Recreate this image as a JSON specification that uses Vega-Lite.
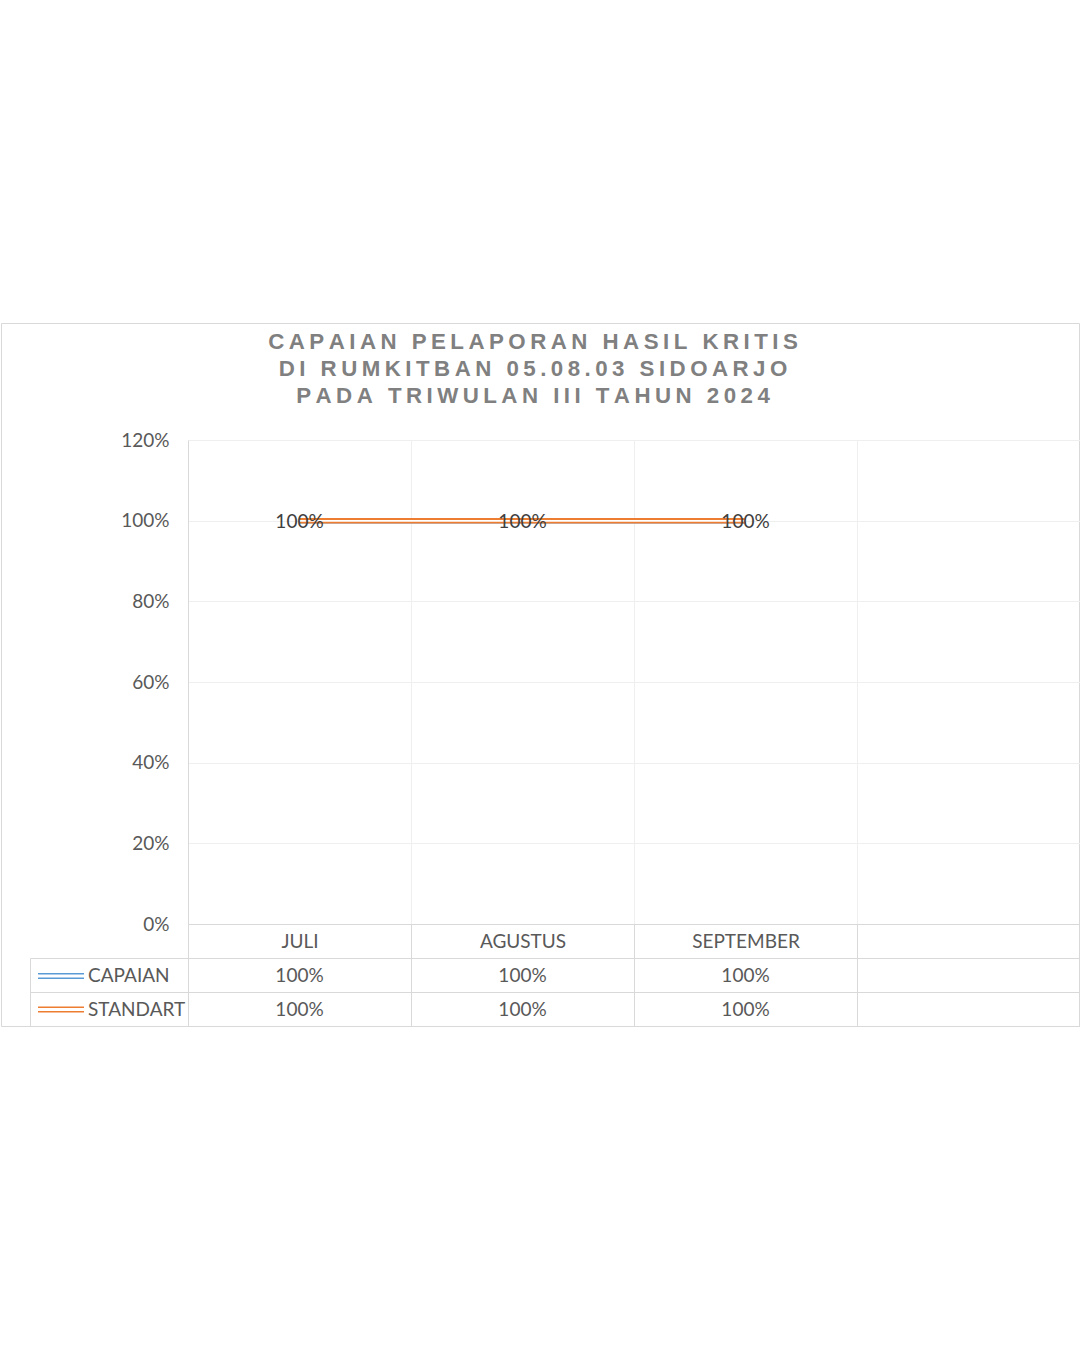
{
  "$schema": "https://vega.github.io/schema/vega-lite/v6.json",
  "width": 1078,
  "height": 703,
  "autosize": "none",
  "padding": {"left": 1, "top": 323, "right": 1, "bottom": 4},
  "background": "white",
  "config": {"view": {"stroke": "#d9d9d9", "strokeWidth": 1}, "font": "Lato"},
  "title": {
    "text": [
      "C\u2009A\u2009P\u2009A\u2009I\u2009A\u2009N\u2009 \u2009P\u2009E\u2009L\u2009A\u2009P\u2009O\u2009R\u2009A\u2009N\u2009 \u2009H\u2009A\u2009S\u2009I\u2009L\u2009 \u2009K\u2009R\u2009I\u2009T\u2009I\u2009S",
      "D\u2009I\u2009 \u2009R\u2009U\u2009M\u2009K\u2009I\u2009T\u2009B\u2009A\u2009N\u2009 \u20090\u20095\u2009.\u20090\u20098\u2009.\u20090\u20093\u2009 \u2009S\u2009I\u2009D\u2009O\u2009A\u2009R\u2009J\u2009O",
      "P\u2009A\u2009D\u2009A\u2009 \u2009T\u2009R\u2009I\u2009W\u2009U\u2009L\u2009A\u2009N\u2009 \u2009I\u2009I\u2009I\u2009 \u2009T\u2009A\u2009H\u2009U\u2009N\u2009 \u20092\u20090\u20092\u20094"
    ],
    "anchor": "middle",
    "frame": "group",
    "orient": "top",
    "offset": -84.6,
    "baseline": "top",
    "lineHeight": 27,
    "font": "Liberation Sans",
    "fontWeight": "bold",
    "fontSize": 22.3,
    "color": "#808080",
    "dx": -7
  },
  "data": {
    "values": [
      {"month": "JULI", "series": "CAPAIAN", "value": 1},
      {"month": "AGUSTUS", "series": "CAPAIAN", "value": 1},
      {"month": "SEPTEMBER", "series": "CAPAIAN", "value": 1},
      {"month": "JULI", "series": "STANDART", "value": 1},
      {"month": "AGUSTUS", "series": "STANDART", "value": 1},
      {"month": "SEPTEMBER", "series": "STANDART", "value": 1}
    ]
  },
  "encoding": {
    "x": {
      "field": "month",
      "type": "nominal",
      "sort": null,
      "scale": {"type": "band", "domain": ["JULI", "AGUSTUS", "SEPTEMBER", " "], "range": [187, 1079], "paddingInner": 0, "paddingOuter": 0},
      "axis": {
        "orient": "top",
        "offset": -601,
        "title": null,
        "tickBand": "extent",
        "ticks": true,
        "tickSize": -102,
        "tickColor": "#d9d9d9",
        "domain": true,
        "domainColor": "#d9d9d9",
        "grid": true,
        "gridColor": "#efefef",
        "labelFont": "Lato",
        "labelFontSize": 19,
        "labelColor": "#595959",
        "labelPadding": 84.5,
        "labelBaseline": "middle",
        "labelAngle": 0
      }
    }
  },
  "layer": [
    {
      "encoding": {
        "y": {
          "field": "value",
          "type": "quantitative",
          "scale": {"domain": [0, 1.2], "range": [601, 117], "nice": false, "zero": true},
          "axis": {
            "orient": "left",
            "offset": -187,
            "title": null,
            "values": [0, 0.2, 0.4, 0.6, 0.8, 1, 1.2],
            "format": ".0%",
            "ticks": false,
            "labelPadding": 19,
            "domain": true,
            "domainColor": "#d9d9d9",
            "grid": true,
            "gridColor": {"condition": {"test": "datum.value === 0", "value": "#d9d9d9"}, "value": "#efefef"},
            "labelFont": "Lato",
            "labelFontSize": 19,
            "labelColor": "#595959"
          }
        }
      },
      "layer": [
        {
          "mark": {"type": "line", "strokeWidth": 5.5},
          "encoding": {
            "stroke": {
              "field": "series",
              "type": "nominal",
              "scale": {"domain": ["CAPAIAN", "STANDART"], "range": ["#5b9bd5", "#ed7d31"]},
              "legend": {
                "orient": "none",
                "legendX": 50.5,
                "legendY": 643.5,
                "title": null,
                "symbolType": "M-4,-0.39L4,-0.39M-4,0.39L4,0.39",
                "symbolSize": 132,
                "symbolStrokeWidth": 1.5,
                "labelFont": "Lato",
                "labelFontSize": 19,
                "labelColor": "#595959",
                "labelOffset": 17.5,
                "rowPadding": 13.5,
                "padding": 0
              }
            }
          }
        },
        {
          "mark": {"type": "line", "strokeWidth": 1.5, "color": "white"},
          "encoding": {"detail": {"field": "series", "type": "nominal"}}
        },
        {
          "transform": [{"filter": "datum.series === 'STANDART'"}],
          "mark": {"type": "text", "font": "Lato", "fontSize": 19, "color": "#404040", "dy": 1},
          "encoding": {"text": {"field": "value", "type": "quantitative", "format": ".0%"}}
        }
      ]
    },
    {
      "mark": {"type": "text", "font": "Lato", "fontSize": 19, "color": "#595959", "dy": 1},
      "encoding": {
        "y": {
          "field": "series",
          "type": "nominal",
          "scale": {"type": "band", "domain": ["CAPAIAN", "STANDART"], "range": [635, 703], "paddingInner": 0, "paddingOuter": 0},
          "axis": {
            "orient": "left",
            "offset": -29,
            "title": null,
            "labels": false,
            "ticks": true,
            "tickSize": -158,
            "tickBand": "extent",
            "tickColor": "#d9d9d9",
            "domain": true,
            "domainColor": "#d9d9d9",
            "grid": true,
            "gridColor": "#d9d9d9"
          }
        },
        "text": {"field": "value", "type": "quantitative", "format": ".0%"}
      }
    }
  ],
  "resolve": {"scale": {"y": "independent"}}
}
